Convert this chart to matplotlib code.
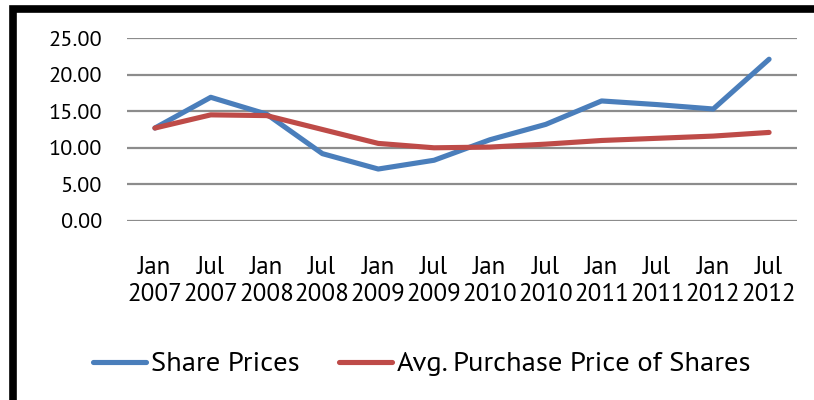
import matplotlib.pyplot as plt
from matplotlib.patches import Rectangle

periods = ["Jan\n2007", "Jul\n2007", "Jan\n2008", "Jul\n2008", "Jan\n2009", "Jul\n2009",
           "Jan\n2010", "Jul\n2010", "Jan\n2011", "Jul\n2011", "Jan\n2012", "Jul\n2012"]
share_prices = [12.7, 16.9, 14.6, 9.2, 7.1, 8.3, 11.1, 13.2, 16.4, 15.9, 15.3, 22.1]
avg_purchase = [12.7, 14.5, 14.4, 12.5, 10.6, 10.0, 10.1, 10.5, 11.0, 11.3, 11.6, 12.1]
yticks = [0, 5, 10, 15, 20, 25]

plt.rcParams['font.family'] = ['PT Sans', 'DejaVu Sans']

fig = plt.figure(figsize=(8.14, 4.0), dpi=100)
ax = fig.add_axes([127/814, 1-221/400, 670/814, 183/400])

x = range(len(periods))
ax.plot(x, share_prices, color="#4A7EBB", lw=3.7, solid_capstyle="round", label="Share Prices")
ax.plot(x, avg_purchase, color="#BE4B48", lw=3.7, solid_capstyle="round",
        label="Avg. Purchase Price of Shares")

ax.set_xlim(-0.5, len(periods) - 0.5)
ax.set_ylim(0, 25)
ax.set_yticks(yticks)
ax.set_yticklabels([f"{v:.2f}" for v in yticks], fontsize=16)
ax.set_xticks(list(x))
ax.set_xticklabels(periods, fontsize=18, linespacing=1.22)
ax.tick_params(axis="both", length=0)
ax.tick_params(axis="y", pad=18)
ax.tick_params(axis="x", pad=25)
ax.yaxis.grid(True, color="#8c8c8c", lw=1.6)
ax.set_axisbelow(True)
for s in ax.spines.values():
    s.set_visible(False)

fig.legend(loc="center", bbox_to_anchor=(422/814, 1-364/400), ncol=2, frameon=False,
           fontsize=20.5, handlelength=1.85, handletextpad=0.17, columnspacing=1.4)

# thick black frame of the chart box (cut off at right and bottom)
fig.patches.append(Rectangle((13/814, -0.2), 1.2, 1-8.7/400 + 0.2, transform=fig.transFigure,
                             fill=False, edgecolor="black", lw=5.5))

fig.savefig("out.png", dpi=100)
